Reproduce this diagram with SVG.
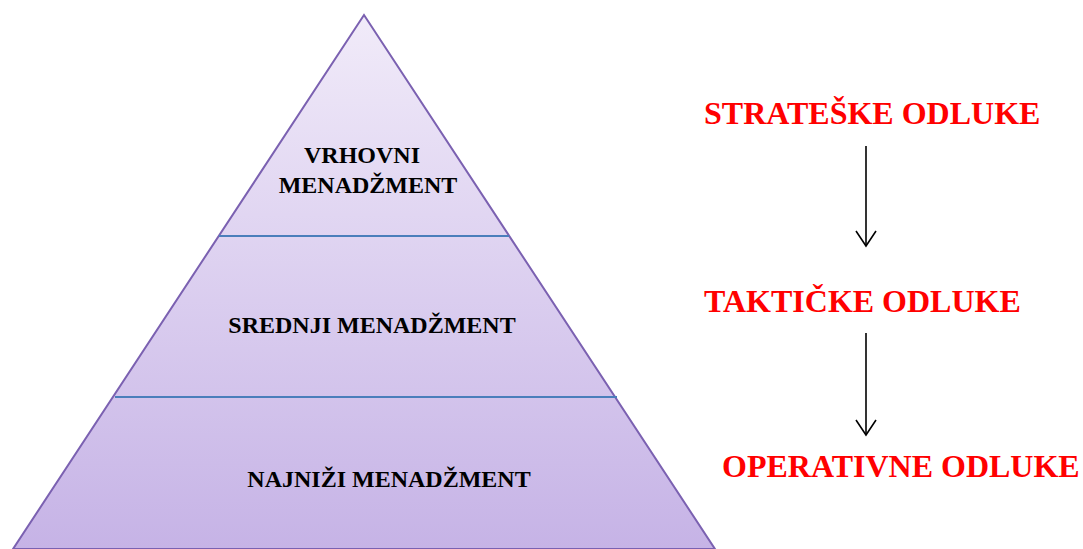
<svg xmlns="http://www.w3.org/2000/svg" width="1083" height="549" viewBox="0 0 1083 549">
<defs>
<linearGradient id="g" x1="0" y1="15" x2="0" y2="549" gradientUnits="userSpaceOnUse">
<stop offset="0" stop-color="#f1ebf9"/>
<stop offset="1" stop-color="#c6b3e6"/>
</linearGradient>
<marker id="ah" markerWidth="18" markerHeight="24" refX="16" refY="12" orient="auto" markerUnits="userSpaceOnUse" viewBox="0 0 18 24">
<path d="M1,2 L16,12 L1,22" fill="none" stroke="#000" stroke-width="1.6"/>
</marker>
<style>
.lvl{font-family:"Liberation Serif","Times New Roman",serif;font-weight:bold;font-size:24px;fill:#000;text-anchor:middle}
.dec{font-family:"Liberation Serif","Times New Roman",serif;font-weight:bold;font-size:32px;fill:#ff0000}
.sep{stroke:#4a7ebb;stroke-width:2}
.arr{stroke:#000;stroke-width:1.6;fill:none;marker-end:url(#ah)}
</style>
</defs>
<rect width="1083" height="549" fill="#fff"/>
<g id="pyramid">
<polygon points="364,15 13,549 715,549" fill="url(#g)" stroke="#7b61b1" stroke-width="2"/>
<line class="sep" x1="219" y1="236" x2="509" y2="236"/>
<line class="sep" x1="115" y1="397" x2="617" y2="397"/>
</g>
<g id="vrhovni"><text class="lvl" x="362" y="163">VRHOVNI</text><text class="lvl" x="368" y="193">MENADŽMENT</text></g>
<g id="srednji"><text class="lvl" x="372" y="333">SREDNJI MENADŽMENT</text></g>
<g id="najnizi"><text class="lvl" x="389" y="487">NAJNIŽI MENADŽMENT</text></g>
<g id="strateske"><text class="dec" x="704" y="124">STRATEŠKE ODLUKE</text></g>
<g id="takticke"><text class="dec" x="704" y="312">TAKTIČKE ODLUKE</text></g>
<g id="operativne"><text class="dec" x="722" y="477">OPERATIVNE ODLUKE</text></g>
<g id="connectors">
<line class="arr" x1="866" y1="146" x2="866" y2="246"/>
<line class="arr" x1="866" y1="333" x2="866" y2="435"/>
</g>
</svg>
